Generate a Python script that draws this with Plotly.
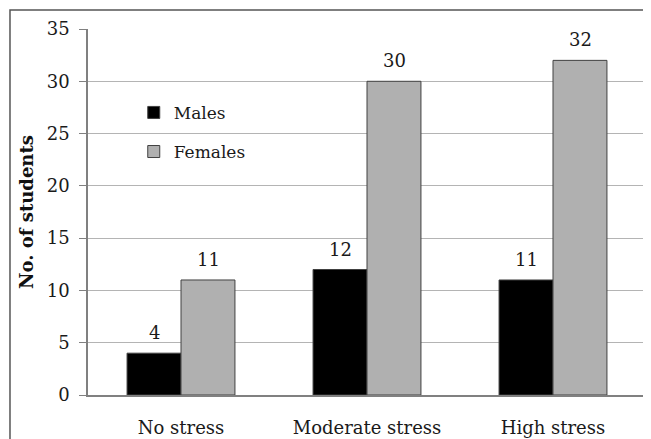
import plotly.graph_objects as go

categories = ["No stress", "Moderate stress", "High stress"]
males = [4, 12, 11]
females = [11, 30, 32]
y_ticks = [0, 5, 10, 15, 20, 25, 30, 35]

FONT = "DejaVu Serif"
TXT = "#1a1a1a"
fig = go.Figure()
fig.add_trace(go.Bar(
    name="Males", x=categories, y=males,
    marker=dict(color="#000000", line=dict(color="#404040", width=1)),
    legendgroup="m",
))
fig.add_trace(go.Bar(
    name="Females", x=categories, y=females,
    marker=dict(color="#b0b0b0", line=dict(color="#404040", width=1)),
    legendgroup="f",
))

annotations = []
for series, shift in ((males, -27), (females, 27)):
    for c, v in zip(categories, series):
        annotations.append(dict(x=c, y=v, xref="x", yref="y", text=str(v),
                                showarrow=False, xshift=shift, yanchor="bottom",
                                yshift=8, font=dict(family=FONT, size=18, color=TXT)))

fig.update_layout(
    width=651, height=439,
    margin=dict(l=80, r=13, t=21, b=52, autoexpand=False),
    paper_bgcolor="white", plot_bgcolor="white",
    barmode="group", bargap=0.42, bargroupgap=0,
    font=dict(family=FONT, size=18, color=TXT),
    showlegend=True,
    legend=dict(x=0.082, y=0.82, xanchor="left", yanchor="top",
                bgcolor="rgba(0,0,0,0)", tracegroupgap=14,
                font=dict(family=FONT, size=17, color=TXT)),
    xaxis=dict(showline=True, linecolor="#808080", linewidth=1.5,
               ticks="", showgrid=False, ticklabelstandoff=16,
               tickfont=dict(family=FONT, size=18, color=TXT)),
    yaxis=dict(range=[0, 35], tickvals=y_ticks, showline=True,
               linecolor="#808080", linewidth=1.5,
               ticks="outside", ticklen=7, tickcolor="#808080",
               showgrid=True, gridcolor="#b4b4b4", gridwidth=1,
               zeroline=False, ticklabelstandoff=6,
               tickfont=dict(family=FONT, size=18, color=TXT),
               title=dict(text="<b>No. of students</b>", standoff=8,
                          font=dict(family=FONT, size=18, color="#111"))),
    annotations=annotations,
    shapes=[dict(type="rect", xref="paper", yref="paper",
                 x0=-0.1398, x1=1.05, y0=-0.3, y1=1.052,
                 line=dict(color="#555555", width=1.5), fillcolor="rgba(0,0,0,0)",
                 layer="below")],
)
fig.write_html("out.html")
